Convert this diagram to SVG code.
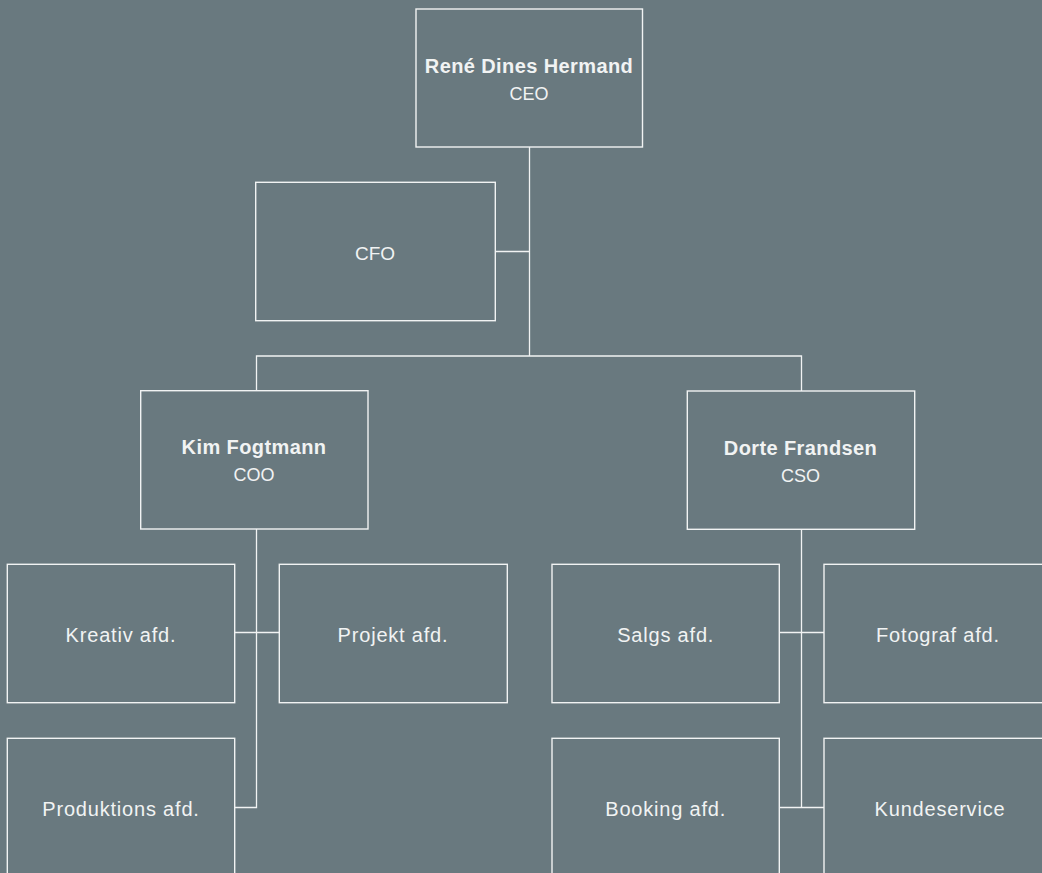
<svg xmlns="http://www.w3.org/2000/svg" width="1042" height="873" viewBox="0 0 1042 873">
<style>
.box{fill:none;stroke:#f1f3f3;stroke-width:1.4}
.con{fill:none;stroke:#f1f3f3;stroke-width:1.3}
text{font-family:"Liberation Sans",Arial,sans-serif;fill:#f1f3f3;text-anchor:middle}
.name{font-weight:bold;font-size:20px;letter-spacing:0.4px}
.role{font-size:18px;letter-spacing:0px}
.dept{font-size:20px;letter-spacing:0.8px}
</style>
<rect width="1042" height="873" fill="#69797f"/>
<g id="connectors" class="con">
<path d="M529.5 147V356M495.5 251.5H529.5M256.5 391V356H801.5V391"/>
<path d="M256.5 529V807.5H234.7M234.7 632.5H279.3"/>
<path d="M801.5 529V807.5M779.3 632.5H824M779.3 807.5H824"/>
</g>
<g id="ceo"><rect class="box" x="416" y="9" width="226.5" height="138"/><text class="name" x="529" y="73">René Dines Hermand</text><text class="role" x="529" y="100">CEO</text></g>
<g id="cfo"><rect class="box" x="255.7" y="182.3" width="239.6" height="138.4"/><text class="dept" x="375" y="260" style="font-size:19px;letter-spacing:0px">CFO</text></g>
<g id="coo"><rect class="box" x="140.7" y="390.7" width="227.3" height="138.3"/><text class="name" x="254" y="454">Kim Fogtmann</text><text class="role" x="254" y="481">COO</text></g>
<g id="cso"><rect class="box" x="687.3" y="391" width="227.4" height="138.3"/><text class="name" x="800.5" y="455">Dorte Frandsen</text><text class="role" x="800.5" y="481.7">CSO</text></g>
<g id="kreativ"><rect class="box" x="7.3" y="564.3" width="227.4" height="138.4"/><text class="dept" x="121" y="642">Kreativ afd.</text></g>
<g id="projekt"><rect class="box" x="279.3" y="564.3" width="228" height="138.4"/><text class="dept" x="393" y="642">Projekt afd.</text></g>
<g id="produktion"><rect class="box" x="7.3" y="738.3" width="227.4" height="150"/><text class="dept" x="121" y="816">Produktions afd.</text></g>
<g id="salgs"><rect class="box" x="552" y="564.3" width="227.3" height="138.4"/><text class="dept" x="665.7" y="642">Salgs afd.</text></g>
<g id="fotograf"><rect class="box" x="824" y="564.3" width="228" height="138.4"/><text class="dept" x="938" y="642">Fotograf afd.</text></g>
<g id="booking"><rect class="box" x="552" y="738.3" width="227.3" height="150"/><text class="dept" x="665.7" y="816">Booking afd.</text></g>
<g id="kundeservice"><rect class="box" x="824" y="738.3" width="228" height="150"/><text class="dept" x="940" y="816">Kundeservice</text></g>
</svg>
